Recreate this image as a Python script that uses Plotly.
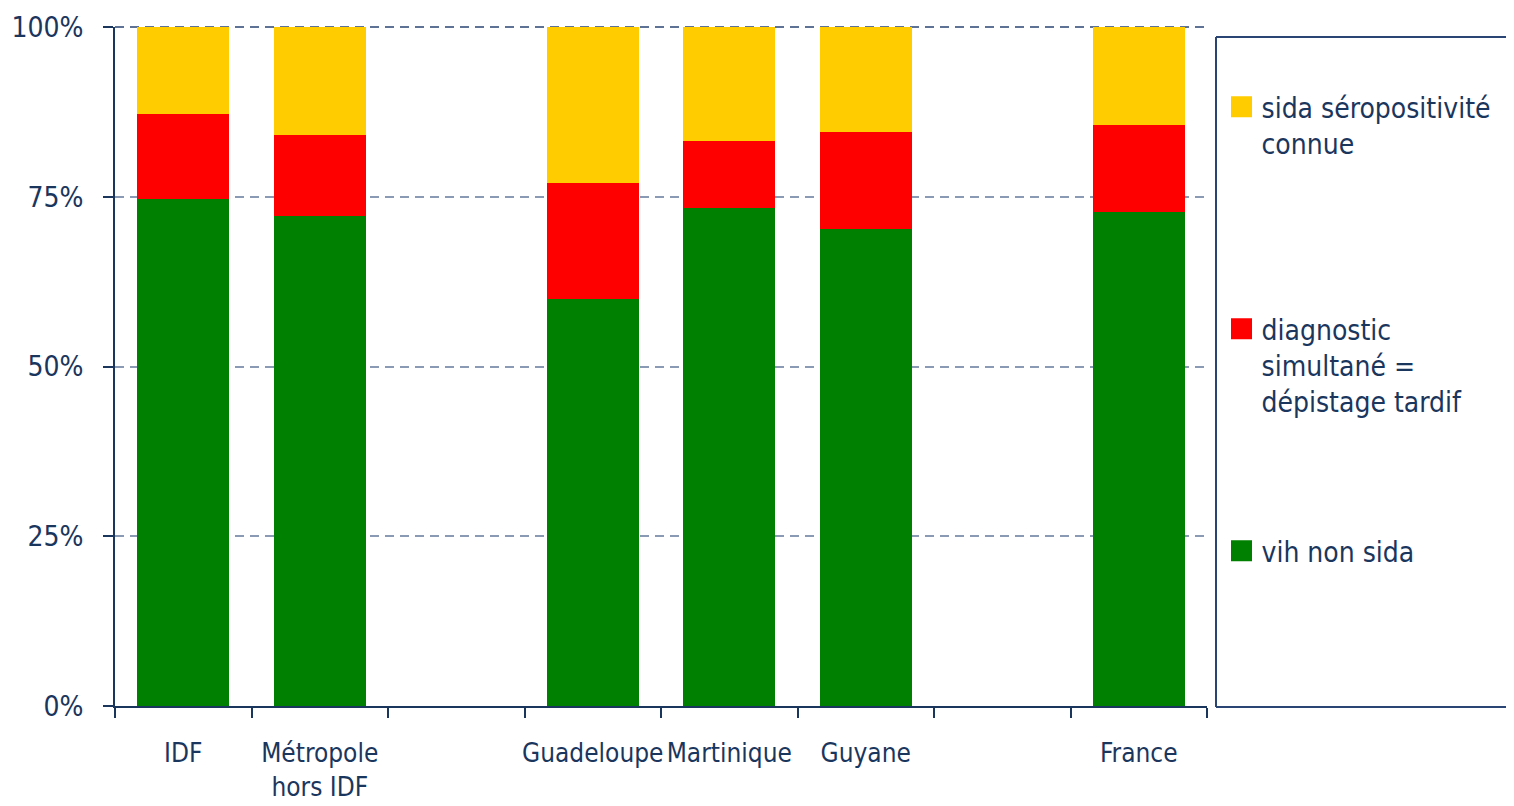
import plotly.graph_objects as go

categories = ["IDF", "Métropole<br>hors IDF", "\u00a0", "Guadeloupe", "Martinique", "Guyane", "\u00a0\u00a0", "France"]
vih_non_sida = [74.7, 72.2, None, 59.9, 73.3, 70.2, None, 72.8]
diagnostic_simultane = [12.5, 11.9, None, 17.1, 9.9, 14.3, None, 12.8]
sida_seropos_connue = [12.8, 15.9, None, 23.0, 16.8, 15.5, None, 14.4]

series_names = ["vih non sida", "diagnostic<br>simultané =<br>dépistage tardif", "sida séropositivité<br>connue"]
series_values = [vih_non_sida, diagnostic_simultane, sida_seropos_connue]
series_colors = ["#008000", "#FF0000", "#FFCC00"]

y_ticks = [0, 25, 50, 75, 100]
y_ticklabels = ["0%", "25%", "50%", "75%", "100%"]

FONT = "DejaVu Sans Condensed, Liberation Sans Narrow, DejaVu Sans, sans-serif"
NAVY = "#1b365d"
BOX = "#2a4473"

def fnt(size):
    return dict(family=FONT, size=size, color=NAVY)

fig = go.Figure()
for name, vals, col in zip(series_names, series_values, series_colors):
    fig.add_trace(go.Bar(x=categories, y=vals, name=name, marker=dict(color=col, line=dict(width=0)),
                         showlegend=False, hoverinfo="y"))

legend_ids = ["legend3", "legend2", "legend"]
for name, col, lid in zip(series_names, series_colors, legend_ids):
    fig.add_trace(go.Scatter(x=[None], y=[None], mode="markers", name=name, legend=lid,
                             marker=dict(symbol="square", size=16, color=col,
                                         line=dict(color=col, width=5))))

# page has an 8px body margin: figure is 1506x798 drawn at (8, 8)
pw = 1092.0
ph = 679.0
def px_x(p):
    return (p - 115) / pw
def px_y(p):
    return (706 - p) / ph

leg_common = dict(font=fnt(28), bgcolor="rgba(0,0,0,0)",
                  borderwidth=0, xanchor="left", yanchor="top", valign="top", itemsizing="trace")

bx0, bx1, by0, by1 = px_x(1216), px_x(1560), px_y(707), px_y(37)

fig.update_layout(
    width=1506, height=798,
    margin=dict(l=107, r=307, t=19, b=100, autoexpand=False),
    paper_bgcolor="white", plot_bgcolor="white",
    barmode="stack", bargap=0.326,
    font=fnt(28),
    legend=dict(x=px_x(1221.5), y=px_y(82), **leg_common),
    legend2=dict(x=px_x(1221.5), y=px_y(304), **leg_common),
    legend3=dict(x=px_x(1221.5), y=px_y(526), **leg_common),
    xaxis=dict(type="category", categoryorder="array", categoryarray=categories,
               range=[-0.5, 7.5], showline=True, linecolor=NAVY, linewidth=2,
               ticks="outside", tickson="boundaries", ticklen=10, tickwidth=2, tickcolor=NAVY,
               showgrid=False, ticklabelstandoff=23, tickangle=0, automargin=False,
               tickfont=fnt(26)),
    yaxis=dict(range=[0, 100], tickvals=y_ticks, ticktext=y_ticklabels,
               showline=True, linecolor=NAVY, linewidth=2,
               ticks="outside", ticklen=10, tickwidth=2, tickcolor=NAVY,
               showgrid=True, gridcolor="#8a99b4", gridwidth=1.5, griddash="9px,6px",
               zeroline=False, ticklabelstandoff=14, automargin=False,
               tickfont=fnt(28)),
    shapes=[
        dict(type="line", xref="paper", yref="paper", x0=0, x1=1, y0=1, y1=1,
             line=dict(color=BOX, width=1.5, dash="9px,6px"), layer="below"),
        dict(type="line", xref="paper", yref="paper", x0=bx0, x1=bx1, y0=by1, y1=by1,
             line=dict(color=BOX, width=2)),
        dict(type="line", xref="paper", yref="paper", x0=bx0, x1=bx1, y0=by0, y1=by0,
             line=dict(color=BOX, width=2)),
        dict(type="line", xref="paper", yref="paper", x0=bx0, x1=bx0, y0=by0, y1=by1,
             line=dict(color=BOX, width=2)),
    ],
)

fig.write_html("out.html")
